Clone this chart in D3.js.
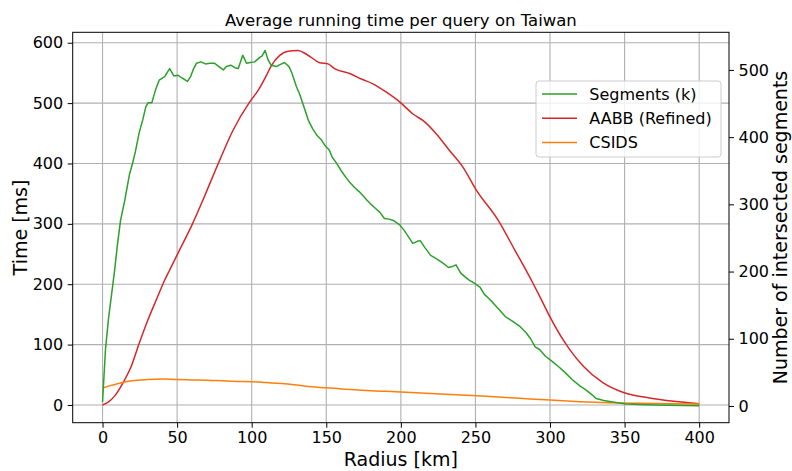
<!DOCTYPE html>
<html>
<head>
<meta charset="utf-8">
<script src="https://cdn.jsdelivr.net/npm/d3@7"></script>
<style>
  body { margin: 0; background: #fff; }
  text { font-family: "DejaVu Sans", sans-serif; }
</style>
</head>
<body>
<svg id="chart" width="792" height="471"></svg>
<script>
// ---- data ----
const segRadius = [0, 2, 4, 6, 8, 10, 12, 15, 18, 20, 22, 24.5, 27, 29, 30.5, 33, 35.5, 38, 41.7, 43, 45, 47.8, 50.7, 53.4, 57, 59, 60.7, 63, 66, 69, 72, 75, 78, 81, 83, 86, 89, 91, 94, 96.5, 99, 102, 105, 107, 109, 111, 113, 116.6, 119, 122, 125, 127, 130, 132, 135.5, 138, 141, 144, 146.7, 149, 152, 154, 157, 160, 163.5, 166, 169, 172, 175, 177, 180, 182.5, 186, 189, 192, 195, 199, 202, 205, 208, 211, 213, 216, 220, 224, 228, 232, 235, 237, 240, 243, 246, 249, 253, 256, 259, 262, 266, 270, 275, 280, 284, 287, 290, 293, 297, 301, 306, 310, 315, 320, 324, 328, 331, 336, 342, 351, 360, 370, 380, 390, 400];
const segmentsK = [6, 85, 130, 165, 200, 240, 275, 307, 344, 360, 378, 406, 426, 445, 451, 451, 470, 485, 490, 495, 502, 491, 492, 488, 483, 490, 500, 510, 512, 509, 510, 510, 505, 500, 505, 507, 503, 502, 522, 510, 511, 512, 518, 521, 529, 515, 507, 505, 508, 511, 505, 495, 475, 465, 442, 425, 412, 402, 396, 388, 381, 370, 361, 350, 339, 332, 325, 319, 312, 307, 300, 295, 288, 279, 278, 276, 270, 262, 252, 242, 245, 246, 236, 224, 219, 213, 206, 208, 210, 198, 192, 187, 183, 177, 166, 160, 153, 143, 133, 126, 118, 109, 100, 88, 84, 74, 67, 58, 50, 39, 30, 24, 17, 11, 8, 6, 3, 2, 1.5, 1, 0.8, 0.5];

const aabbRadius = [0, 4, 8.2, 13.8, 19.4, 24.3, 30.6, 36.2, 41.7, 45.1, 50.7, 60.3, 67.4, 75.2, 79, 87.5, 98.7, 104.3, 109.9, 113.2, 118.8, 124.4, 131, 136.7, 145.6, 151.2, 155.6, 165.7, 173.5, 181.3, 190.3, 199.2, 208.1, 216, 223.8, 232.5, 241.6, 250.6, 265, 276.3, 288.5, 294.1, 299.7, 313.1, 322, 335.4, 348.8, 366.7, 383, 400];
const aabbMs = [0, 5, 15, 37, 65, 100, 142, 175, 207, 224, 252, 300, 340, 386, 408, 455, 502, 521, 546, 562, 579, 586, 587, 581, 567, 565, 557, 549, 540, 532, 518, 502, 482, 469, 449, 422, 394, 356, 307, 257, 202, 175, 147, 92, 65, 37, 21, 11.5, 6, 2];

const csidsRadius = [0, 5, 10, 15, 20, 30, 40, 50, 60, 70, 80, 90, 100, 110, 120, 130, 140, 150, 160, 170, 180, 190, 200, 220, 240, 260, 280, 300, 320, 340, 360, 380, 400];
const csidsMs = [28, 32, 35, 38, 40, 42, 43, 42, 41.5, 41, 40, 39, 38.5, 37, 35.5, 33, 30, 28.5, 26.5, 25, 23.5, 22.5, 21.5, 19, 16.5, 14, 11, 8, 5.5, 3.8, 2.8, 2, 1.5];

const xTicks = [0, 50, 100, 150, 200, 250, 300, 350, 400];
const timeTicks = [0, 100, 200, 300, 400, 500, 600];
const segTicks = [0, 100, 200, 300, 400, 500];

const seriesNames = ["Segments (k)", "AABB (Refined)", "CSIDS"];
const seriesColors = ["#2ca02c", "#d62728", "#ff7f0e"];

// ---- layout ----
const svg = d3.select("#chart");
const plot = {left: 72.7, right: 729, top: 32.3, bottom: 422.7};

const x = d3.scaleLinear().domain([-20, 420]).range([plot.left, plot.right]);
const yTime = d3.scaleLinear().domain([-29.4, 617.3]).range([plot.bottom, plot.top]);
const ySeg = d3.scaleLinear().domain([-24.9, 556]).range([plot.bottom, plot.top]);

// grid
const grid = svg.append("g").attr("class", "grid");
grid.selectAll(".vgrid").data(xTicks).enter().append("line")
  .attr("x1", d => x(d)).attr("x2", d => x(d))
  .attr("y1", plot.top).attr("y2", plot.bottom)
  .attr("stroke", "#b0b0b0").attr("stroke-width", 1.1);
grid.selectAll(".hgrid").data(timeTicks).enter().append("line")
  .attr("x1", plot.left).attr("x2", plot.right)
  .attr("y1", d => yTime(d)).attr("y2", d => yTime(d))
  .attr("stroke", "#b0b0b0").attr("stroke-width", 1.1);

// lines
const zip = (xs, ys) => xs.map((r, i) => [r, ys[i]]);
const lineTime = d3.line().curve(d3.curveMonotoneX).x(d => x(d[0])).y(d => yTime(d[1]));
const lineSeg = d3.line().x(d => x(d[0])).y(d => ySeg(d[1]));

svg.append("path").attr("d", lineTime(zip(aabbRadius, aabbMs)))
  .attr("fill", "none").attr("stroke", seriesColors[1]).attr("stroke-width", 1.5);
svg.append("path").attr("d", lineTime(zip(csidsRadius, csidsMs)))
  .attr("fill", "none").attr("stroke", seriesColors[2]).attr("stroke-width", 1.5);
svg.append("path").attr("d", lineSeg(zip(segRadius, segmentsK)))
  .attr("fill", "none").attr("stroke", seriesColors[0]).attr("stroke-width", 1.5)
  .attr("stroke-linejoin", "round");

// axes
const tickFont = "16px";
const gx = svg.append("g").attr("transform", "translate(0," + plot.bottom + ")")
  .call(d3.axisBottom(x).tickValues(xTicks).tickSize(5).tickPadding(3.5));
const gl = svg.append("g").attr("transform", "translate(" + plot.left + ",0)")
  .call(d3.axisLeft(yTime).tickValues(timeTicks).tickSize(5).tickPadding(4.5));
const gr = svg.append("g").attr("transform", "translate(" + plot.right + ",0)")
  .call(d3.axisRight(ySeg).tickValues(segTicks).tickSize(5).tickPadding(4.5));
[gx, gl, gr].forEach(g => {
  g.select(".domain").remove();
  g.selectAll("text").style("font-size", tickFont).attr("fill", "#000")
    .style("font-family", "DejaVu Sans");
  g.selectAll("line").attr("stroke", "#000").attr("stroke-width", 1);
});

// frame
svg.append("rect").attr("x", plot.left).attr("y", plot.top)
  .attr("width", plot.right - plot.left).attr("height", plot.bottom - plot.top)
  .attr("fill", "none").attr("stroke", "#000").attr("stroke-width", 1);

// labels
svg.append("text").attr("x", (plot.left + plot.right) / 2).attr("y", 25.5)
  .attr("text-anchor", "middle").style("font-size", "16.5px")
  .text("Average running time per query on Taiwan");
svg.append("text").attr("x", (plot.left + plot.right) / 2).attr("y", 466)
  .attr("text-anchor", "middle").style("font-size", "19px").text("Radius [km]");
svg.append("text").attr("transform", "translate(26.5," + (plot.top + plot.bottom) / 2 + ") rotate(-90)")
  .attr("text-anchor", "middle").style("font-size", "19px").text("Time [ms]");
svg.append("text").attr("transform", "translate(787," + (plot.top + plot.bottom) / 2 + ") rotate(-90)")
  .attr("text-anchor", "middle").style("font-size", "19px").text("Number of intersected segments");

// legend
const legend = svg.append("g").attr("transform", "translate(536,81)");
legend.append("rect").attr("width", 185).attr("height", 76).attr("rx", 3)
  .attr("fill", "#fff").attr("fill-opacity", 0.8)
  .attr("stroke", "#cccccc").attr("stroke-width", 1);
seriesNames.forEach((name, i) => {
  const yy = 13 + i * 24.3;
  legend.append("line").attr("x1", 6).attr("x2", 41).attr("y1", yy).attr("y2", yy)
    .attr("stroke", seriesColors[i]).attr("stroke-width", 1.5);
  legend.append("text").attr("x", 53.3).attr("y", yy).attr("dy", "0.35em")
    .style("font-size", "16px").text(name);
});
</script>
</body>
</html>
